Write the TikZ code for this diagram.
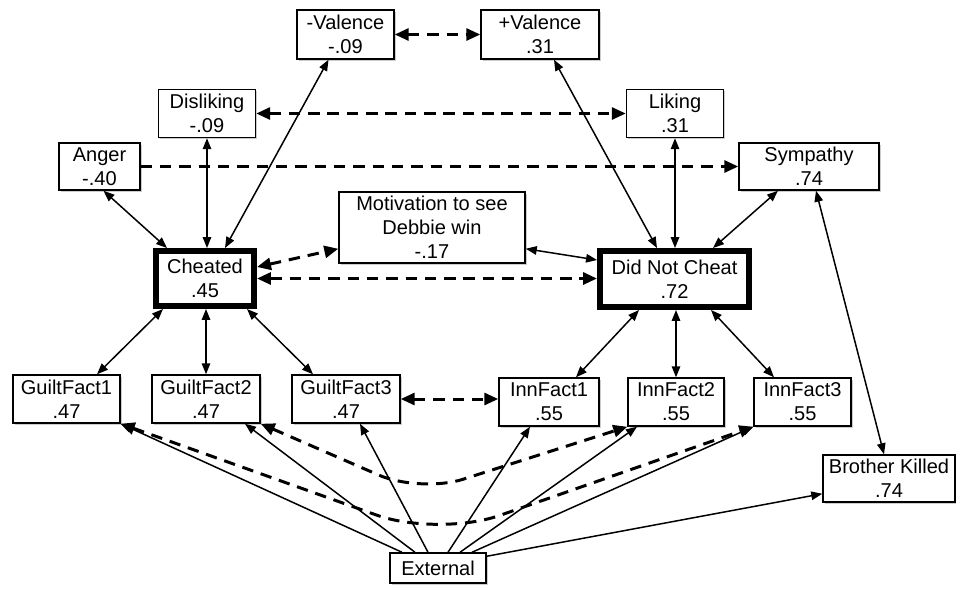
\documentclass[tikz,border=0pt]{standalone}
\usepackage{fontspec}
\setmainfont{Liberation Sans}
\usetikzlibrary{arrows.meta,calc,shadows}

\tikzset{
  fact/.style={draw, line width=0.85pt, fill=white, align=center,
    inner xsep=2pt, inner ysep=1pt, minimum height=0.96cm,
    font=\fontsize{11.4}{13.7}\selectfont,
    drop shadow={shadow xshift=0.035cm, shadow yshift=-0.035cm, fill=black!40}},
  latent/.style={fact, line width=3.4pt},
  corr/.style={line width=0.85pt,
    {Triangle[length=0.22cm,width=0.17cm]}-{Triangle[length=0.22cm,width=0.17cm]}},
  effect/.style={line width=0.85pt, -{Triangle[length=0.22cm,width=0.17cm]}},
  cov/.style={line width=1.7pt, dash pattern=on 6.5pt off 4.5pt,
    {Triangle[length=0.28cm,width=0.24cm]}-{Triangle[length=0.28cm,width=0.24cm]}},
  covone/.style={cov, -{Triangle[length=0.28cm,width=0.24cm]}}
}

\begin{document}
\begin{tikzpicture}[x=0.02cm, y=-0.02cm]

\useasboundingbox (0,0) rectangle (956,589);

% Caixas de cima
\node[fact, minimum width=1.94cm, minimum height=0.98cm] (vneg) at (345.5,34.5) {-Valence\\-.09};
\node[fact, minimum width=2.36cm, minimum height=0.98cm] (vpos) at (540,34.5) {+Valence\\.31};
\node[fact, minimum width=1.94cm] (disl) at (207,113.5) {Disliking\\-.09};
\node[fact, minimum width=1.94cm] (lik) at (675,113.5) {Liking\\.31};
\node[fact, minimum width=1.62cm, minimum height=0.94cm] (anger) at (99.5,166.5) {Anger\\-.40};
\node[fact, minimum width=2.8cm, minimum height=0.94cm] (symp) at (809,166.5) {Sympathy\\.74};
\node[fact, minimum width=3.72cm, minimum height=1.42cm] (motiv) at (432,227.5) {Motivation to see\\Debbie win\\-.17};

% Caixas do meio (borda grossa)
\node[latent, minimum width=1.96cm, minimum height=1.1cm] (cheat) at (205,278.5) {Cheated\\.45};
\node[latent, minimum width=2.98cm, minimum height=1.12cm] (dnc) at (674.5,279) {Did Not Cheat\\.72};

% Caixas de baixo
\node[fact, minimum width=2.14cm] (gf1) at (66.5,399) {GuiltFact1\\.47};
\node[fact, minimum width=2.16cm] (gf2) at (206,399) {GuiltFact2\\.47};
\node[fact, minimum width=2.16cm] (gf3) at (346,399) {GuiltFact3\\.47};
\node[fact, minimum width=2.0cm] (if1) at (549,402) {InnFact1\\.55};
\node[fact, minimum width=1.92cm] (if2) at (676,402) {InnFact2\\.55};
\node[fact, minimum width=1.94cm] (if3) at (802.5,402) {InnFact3\\.55};
\node[fact, minimum width=2.64cm, minimum height=0.94cm] (bk) at (889,478.5) {Brother Killed\\.74};
\node[fact, minimum width=1.92cm, minimum height=0.6cm] (ext) at (438,568) {External};

% Ligacoes tracejadas
\draw[cov] (vneg.east) -- (vpos.west);
\draw[cov] (disl.east) -- (lik.west);
\draw[covone] (anger.east) -- (symp.west);
\draw[cov] ($(cheat.east)+(0,-11.5)$) -- ($(motiv.south west)+(0,-15)$);
\draw[cov] (cheat.east) -- (cheat.east -| dnc.west);
\draw[cov] (gf3.east) -- (gf3.east -| if1.west);
\draw[cov, rounded corners=0.9cm] (gf2.south east) -- (420,493) -- (if2.south west);
\draw[cov, rounded corners=1.3cm] (gf1.south east) -- (438,537) -- (if3.south west);

% Ligacoes cheias
\draw[corr] ($(anger.south)+(4,0)$) -- ($(cheat.north west)+(14,0)$);
\draw[corr] (disl.south) -- (disl.south |- cheat.north);
\draw[corr] ($(vneg.south)+(-17,0)$) -- ($(cheat.north)+(20,0)$);
\draw[corr] ($(vpos.south)+(14,0)$) -- ($(dnc.north)+(-17.5,0)$);
\draw[corr] (lik.south) -- (lik.south |- dnc.north);
\draw[corr] ($(symp.south)+(-31,0)$) -- ($(dnc.north)+(38.5,0)$);
\draw[corr] ($(symp.south)+(7,0)$) -- ($(bk.north)+(-5,0)$);
\draw[corr] ($(motiv.south east)+(0,-15)$) -- ($(dnc.west)+(0,-19)$);
\draw[corr] ($(cheat.south)+(-42,0)$) -- ($(gf1.north)+(30.5,0)$);
\draw[corr] (gf2.north) -- (gf2.north |- cheat.south);
\draw[corr] ($(cheat.south)+(42,0)$) -- ($(gf3.north)+(-33,0)$);
\draw[corr] ($(dnc.south)+(-35.5,0)$) -- ($(if1.north)+(27,0)$);
\draw[corr] (if2.north) -- (if2.north |- dnc.south);
\draw[corr] ($(dnc.south)+(36.5,0)$) -- ($(if3.north)+(-28.5,0)$);

% Setas saindo de External
\draw[effect] ($(ext.north)+(-36,0)$) -- (gf1.south east);
\draw[effect] ($(ext.north)+(-23,0)$) -- ($(gf2.south)+(39,0)$);
\draw[effect] ($(ext.north)+(-10,0)$) -- ($(gf3.south)+(14,0)$);
\draw[effect] ($(ext.north)+(10,0)$) -- ($(if1.south)+(-19,0)$);
\draw[effect] ($(ext.north)+(22,0)$) -- ($(if2.south)+(-39,0)$);
\draw[effect] ($(ext.north)+(34,0)$) -- (if3.south west);
\draw[effect] ($(ext.north east)+(0,4)$) -- ($(bk.south west)+(0,-9)$);

\end{tikzpicture}
\end{document}
